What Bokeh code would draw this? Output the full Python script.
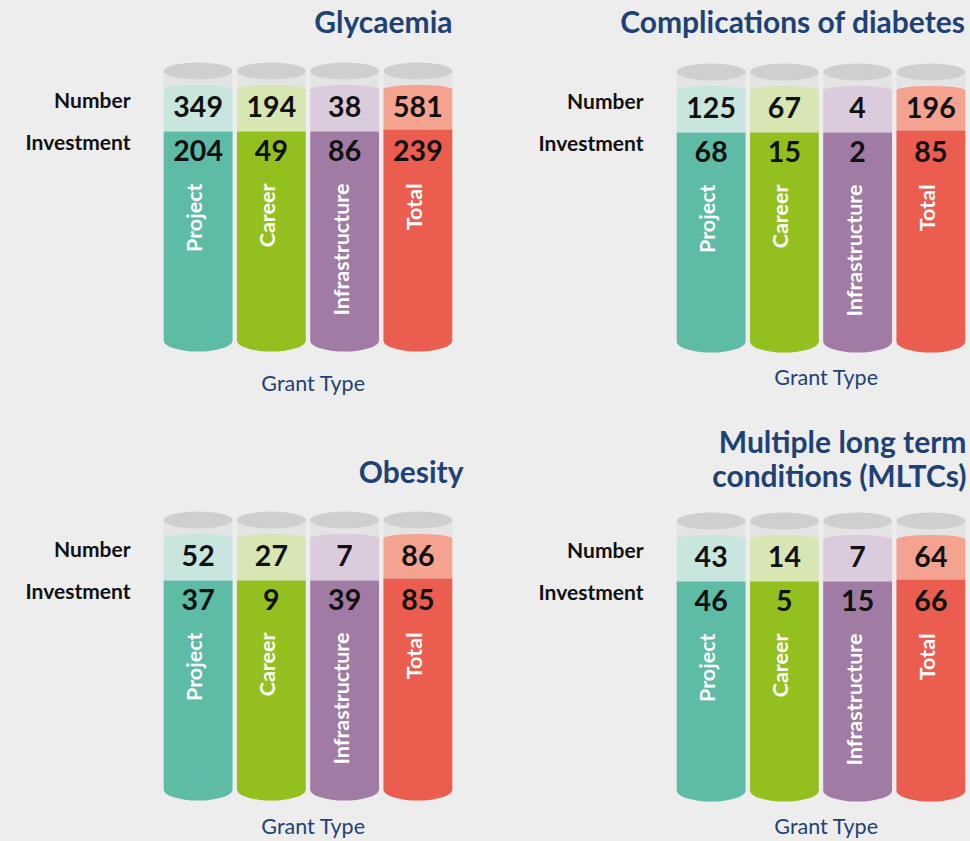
import math

from bokeh.core.properties import value
from bokeh.embed import file_html
from bokeh.layouts import gridplot
from bokeh.models import (CategoricalScale, ColumnDataSource, CoordinateMapping, FactorRange,
                          LinearScale, Range1d)
from bokeh.plotting import figure
from bokeh.resources import INLINE

# ---- data -------------------------------------------------------------
GRANT_TYPES = ["Project", "Career", "Infrastructure", "Total"]
ROW_LABELS = ["Number", "Investment"]
AXIS_TITLE = "Grant Type"

glycaemia_number = [349, 194, 38, 581]
glycaemia_investment = [204, 49, 86, 239]

complications_number = [125, 67, 4, 196]
complications_investment = [68, 15, 2, 85]

obesity_number = [52, 27, 7, 86]
obesity_investment = [37, 9, 39, 85]

mltc_number = [43, 14, 7, 64]
mltc_investment = [46, 5, 15, 66]

# ---- style ------------------------------------------------------------
BG = "#ededed"
NAVY = "#1e4275"
INK = "#111111"
DARK = ["#5dbba6", "#93c01f", "#a07ca4", "#ea5d4f"]
LIGHT = ["#c8e6dd", "#d8e6b3", "#dacbdd", "#f4a390"]
CAP_GREY = "#cfcfcf"
BODY_GREY = "#e4e4e4"
FONT = "Lato"

# horizontal layout (pixels inside each panel)
CYL_LEFT, CYL_RIGHT = 161, 454     # span of the four cylinders
ROW_LABEL_RIGHT = 130
AXIS_TITLE_X = 313

# vertical layout of one cylinder, in pixels measured downwards from its lid
LID_Y, LID_H = 8.5, 17
FILL_TOP, FILL_ARC_H = 27, 9
SPLITS = [69, 69, 69, 67]
BASE_Y, BASE_H = 278, 22
NUMBER_Y, INVEST_Y = 44, 88
NAME_Y = 121
ROW_Y = [37, 79]


def panel(title_lines, numbers, investments, width, height, lid_top,
          title_right, title_ys, axis_title_y):
    y0, y1 = height - lid_top, -lid_top
    p = figure(
        width=width, height=height,
        x_range=Range1d(0, width), y_range=Range1d(y0, y1),
        output_backend="svg", toolbar_location=None, title=None,
        x_axis_location=None, y_axis_location=None,
        min_border=0,
        background_fill_color=BG, border_fill_color=BG, outline_line_color=None,
    )
    p.grid.visible = False

    # the cylinders live on a categorical scale placed over their span
    cyl_coords = CoordinateMapping(
        x_source=FactorRange(*GRANT_TYPES, range_padding=0), x_scale=CategoricalScale(),
        x_target=Range1d(CYL_LEFT, CYL_RIGHT),
        y_source=Range1d(y0, y1), y_scale=LinearScale(), y_target=Range1d(y0, y1),
    )

    src = ColumnDataSource(dict(
        grant=GRANT_TYPES, dark=DARK, light=LIGHT, split=SPLITS,
        number=[str(v) for v in numbers], invest=[str(v) for v in investments],
    ))
    w = 0.94
    cyl = []

    # glass body and lid
    cyl.append(p.vbar(x="grant", top=LID_Y, bottom=FILL_TOP, width=w, source=src,
                      fill_color=BODY_GREY, line_color=None))
    cyl.append(p.ellipse(x="grant", y=LID_Y, width=w, height=LID_H, source=src,
                         fill_color=CAP_GREY, line_color=None))
    # light "number" section with a curved surface
    cyl.append(p.ellipse(x="grant", y=FILL_TOP, width=w, height=FILL_ARC_H, source=src,
                         fill_color="light", line_color=None))
    cyl.append(p.vbar(x="grant", top=FILL_TOP, bottom="split", width=w, source=src,
                      fill_color="light", line_color=None))
    # dark "investment" section with rounded base
    cyl.append(p.vbar(x="grant", top="split", bottom=BASE_Y, width=w, source=src,
                      fill_color="dark", line_color=None))
    cyl.append(p.ellipse(x="grant", y=BASE_Y, width=w, height=BASE_H, source=src,
                         fill_color="dark", line_color=None))

    common = dict(text_font=value(FONT), text_font_style="bold",
                  text_align="center", text_baseline="middle", source=src)
    cyl.append(p.text(x="grant", y=NUMBER_Y, text="number", text_color=INK,
                      text_font_size="28.5px", **common))
    cyl.append(p.text(x="grant", y=INVEST_Y, text="invest", text_color=INK,
                      text_font_size="28.5px", **common))
    cyl.append(p.text(x="grant", y=NAME_Y, text="grant", text_color="white",
                      angle=math.pi / 2, x_offset=-4, text_font=value(FONT),
                      text_font_style="bold", text_font_size="21.5px",
                      text_align="right", text_baseline="middle", source=src))
    for r in cyl:
        r.coordinates = cyl_coords

    # row labels on the left
    p.text(x=[ROW_LABEL_RIGHT] * 2, y=ROW_Y, text=ROW_LABELS,
           text_font=value(FONT), text_font_style="bold", text_font_size="21px",
           text_color=INK, text_align="right", text_baseline="middle")

    # category axis title under the cylinders
    p.text(x=[AXIS_TITLE_X], y=[axis_title_y], text=[AXIS_TITLE],
           text_font=value(FONT), text_font_size="21.5px", text_color=NAVY,
           text_align="center", text_baseline="middle")

    # panel title, right aligned
    p.text(x=[title_right] * len(title_lines), y=title_ys, text=title_lines,
           text_font=value(FONT), text_font_style="bold", text_font_size="30px",
           text_color=NAVY, text_align="right", text_baseline="middle")
    return p


p1 = panel(["Glycaemia"], glycaemia_number, glycaemia_investment,
           513, 420, 62, 452, [-41.5], 320)
p2 = panel(["Complications of diabetes"], complications_number, complications_investment,
           457, 420, 63, 452, [-42.5], 313)
p3 = panel(["Obesity"], obesity_number, obesity_investment,
           513, 421, 91, 463, [-40.5], 314)
p4 = panel(["Multiple long term", "conditions (MLTCs)"], mltc_number, mltc_investment,
           457, 421, 92, 453, [-71.5, -37.5], 313)

layout = gridplot([[p1, p2], [p3, p4]], toolbar_location=None)

html = file_html(layout, INLINE)
html = html.replace("<body>", '<body style="margin:0;background:%s">' % BG)
open("out.html", "w").write(html)
